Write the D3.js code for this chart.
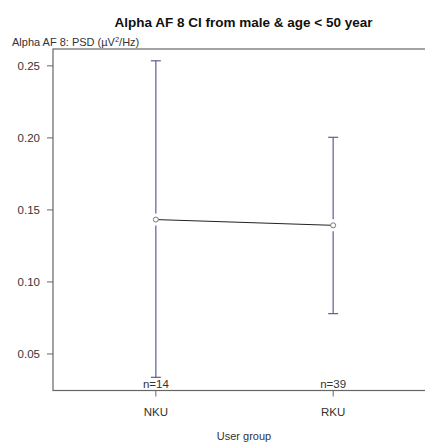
<!DOCTYPE html>
<html>
<head>
<meta charset="utf-8">
<script src="https://cdn.jsdelivr.net/npm/d3@7"></script>
<style>
  body { margin: 0; background: #fff; }
  text { font-family: "Liberation Sans", Arial, sans-serif; }
</style>
</head>
<body>
<svg id="chart"></svg>
<script>
// data
const groups = ["NKU", "RKU"];
const means = [0.1433, 0.1393];
const lower = [0.0338, 0.0780];
const upper = [0.2535, 0.2004];
const counts = [14, 39];
const yTicks = [0.05, 0.10, 0.15, 0.20, 0.25];

const width = 425, height = 443;
const svg = d3.select("#chart").attr("width", width).attr("height", height);

const plotLeft = 53, plotRight = 436, plotTop = 49, plotBottom = 390.5;

const x = d3.scaleLinear().domain([0.42, 2.58]).range([plotLeft, plotRight]);
const y = d3.scaleLinear().domain([0.02465, 0.2617]).range([plotBottom, plotTop]);

const frame = "#666";

// box
svg.append("rect")
  .attr("x", plotLeft).attr("y", plotTop)
  .attr("width", plotRight - plotLeft).attr("height", plotBottom - plotTop)
  .attr("fill", "none").attr("stroke", frame).attr("stroke-width", 1.2);

// y ticks
const yAxis = svg.append("g");
yAxis.selectAll("line").data(yTicks).enter().append("line")
  .attr("x1", plotLeft - 6).attr("x2", plotLeft)
  .attr("y1", d => y(d)).attr("y2", d => y(d))
  .attr("stroke", frame);
yAxis.selectAll("text").data(yTicks).enter().append("text")
  .attr("x", plotLeft - 13).attr("y", d => y(d) + 4)
  .attr("text-anchor", "end")
  .style("font-size", "11.5px").style("fill", "#333")
  .text(d => d3.format(".2f")(d));

// x ticks
const xAxis = svg.append("g");
xAxis.selectAll("line").data(groups).enter().append("line")
  .attr("x1", (d, i) => x(i + 1)).attr("x2", (d, i) => x(i + 1))
  .attr("y1", plotBottom).attr("y2", plotBottom + 6)
  .attr("stroke", frame);
xAxis.selectAll("text").data(groups).enter().append("text")
  .attr("x", (d, i) => x(i + 1)).attr("y", plotBottom + 25)
  .attr("text-anchor", "middle")
  .style("font-size", "11.5px").style("fill", "#333")
  .text(d => d);

// connecting line
svg.append("path")
  .datum(means)
  .attr("fill", "none").attr("stroke", "#222").attr("stroke-width", 1)
  .attr("d", d3.line().x((d, i) => x(i + 1)).y(d => y(d)));

// error bars with a gap around the point
const gap = 6, cap = 5;
const bars = svg.append("g").attr("stroke", "#5c5c9c").attr("stroke-width", 1.2);
groups.forEach((g, i) => {
  const cx = x(i + 1);
  bars.append("line").attr("x1", cx).attr("x2", cx)
    .attr("y1", y(upper[i])).attr("y2", y(means[i]) - gap);
  bars.append("line").attr("x1", cx).attr("x2", cx)
    .attr("y1", y(means[i]) + gap).attr("y2", y(lower[i]));
  bars.append("line").attr("x1", cx - cap).attr("x2", cx + cap)
    .attr("y1", y(upper[i])).attr("y2", y(upper[i]));
  bars.append("line").attr("x1", cx - cap).attr("x2", cx + cap)
    .attr("y1", y(lower[i])).attr("y2", y(lower[i]));
});

// points
svg.selectAll(".pt").data(means).enter().append("circle")
  .attr("class", "pt")
  .attr("cx", (d, i) => x(i + 1)).attr("cy", d => y(d))
  .attr("r", 2.5)
  .attr("fill", "#fff").attr("stroke", "#777").attr("stroke-width", 1);

// n labels
svg.selectAll(".nlab").data(counts).enter().append("text")
  .attr("class", "nlab")
  .attr("x", (d, i) => x(i + 1)).attr("y", plotBottom - 3)
  .attr("text-anchor", "middle")
  .style("font-size", "11.5px").style("fill", "#333")
  .text(d => "n=" + d);

// title
svg.append("text")
  .attr("x", 243.5).attr("y", 27)
  .attr("text-anchor", "middle")
  .style("font-size", "13.5px").style("font-weight", "bold").style("fill", "#111")
  .text("Alpha AF 8 CI from male & age < 50 year");

// y label
const yl = svg.append("text")
  .attr("x", 12).attr("y", 46)
  .style("font-size", "11px").style("fill", "#333");
yl.append("tspan").text("Alpha AF 8: PSD (µV");
yl.append("tspan").attr("dy", -4).style("font-size", "7.5px").text("2");
yl.append("tspan").attr("dy", 4).text("/Hz)");

// x label
svg.append("text")
  .attr("x", 244).attr("y", 440)
  .attr("text-anchor", "middle")
  .style("font-size", "11px").style("fill", "#333")
  .text("User group");
</script>
</body>
</html>
